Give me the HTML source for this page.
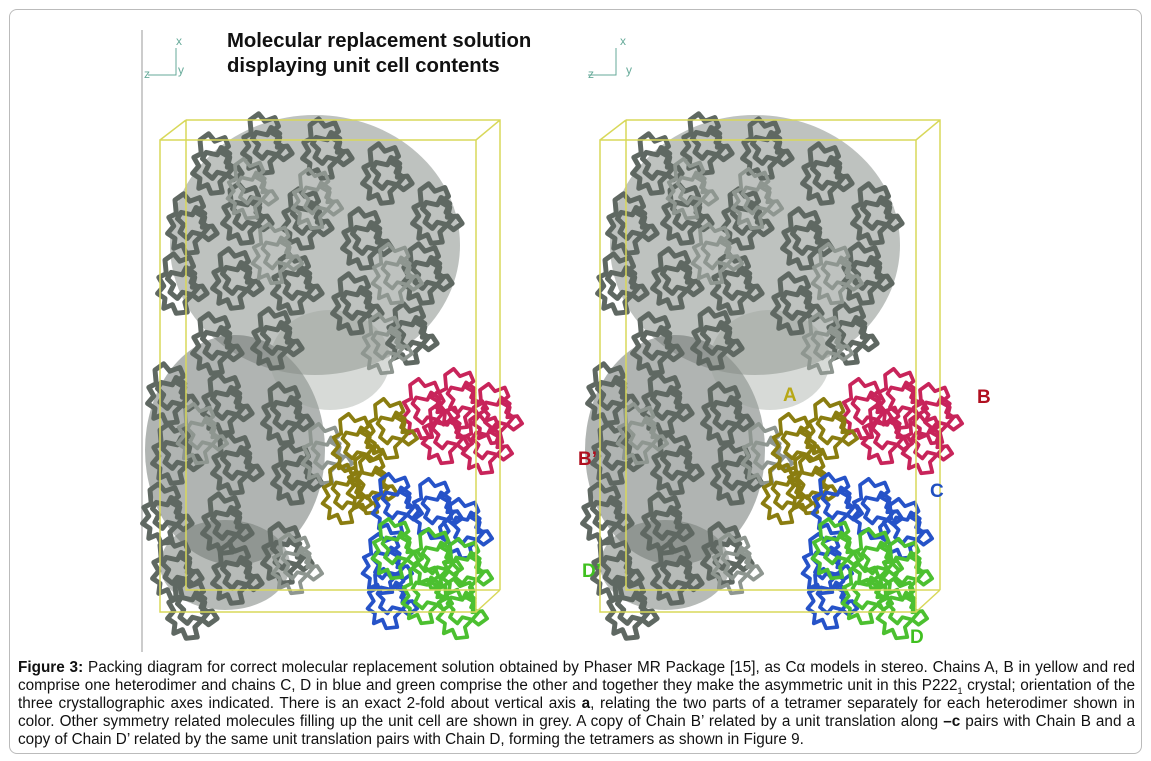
<!DOCTYPE html>
<html><head><meta charset="utf-8"><style>
body{margin:0;background:#fff;width:1151px;height:761px;overflow:hidden;font-family:"Liberation Sans",Arial,sans-serif}
.frame{position:absolute;left:9px;top:9px;width:1131px;height:743px;border:1px solid #bbb;border-radius:8px}
.cap{position:absolute;left:18px;top:659px;width:1117px;font-size:15.3px;line-height:18px;color:#111;text-align:justify}
.title{position:absolute;left:227px;top:29px;font-size:20.3px;font-weight:bold;line-height:25px;color:#111}
.lbl{position:absolute;font-weight:bold;font-size:19px}
</style></head><body>
<div class="frame"></div>
<div class="title">Molecular replacement solution<br>displaying unit cell contents</div>
<svg width="1151" height="761" style="position:absolute;left:0;top:0">
<defs>
<g id="sq" fill="none" stroke-linejoin="round" stroke-linecap="round" transform="scale(0.62)">
<path d="M0 0 l14 -10 l10 12 l16 -6 l6 14 l-12 10 l14 8 l-4 16 l16 -2 l8 12 l-14 10 l-10 -8 l-12 12 l4 16 l-18 2 l-6 -14 l-14 6 l2 -16 l-12 -8 l10 -12 l-8 -14 l12 -6z"/>
<path d="M10 20 l18 4 l6 -12 l14 10 l-6 14 l12 8 l-10 12 l-16 -4 l-8 10 l-12 -10 l6 -12 l-10 -10z"/>
</g>
</defs>
<line x1="142" y1="30" x2="142" y2="652" stroke="#ccc" stroke-width="2"/>
<g stroke="#6a9" stroke-width="1" fill="none"><path d="M148 75 H176 V48"/><path d="M588 75 H616 V48"/></g>
<g font-size="12" fill="#6a9" font-family="Liberation Sans"><text x="176" y="45">x</text><text x="178" y="74">y</text><text x="144" y="78">z</text><text x="620" y="45">x</text><text x="626" y="74">y</text><text x="588" y="78">z</text></g>
<g id="mol">
<g>
<ellipse cx="315" cy="245" rx="145" ry="130" fill="#7d857f" opacity="0.5"/>
<ellipse cx="235" cy="450" rx="90" ry="115" fill="#6f7772" opacity="0.55"/>
<ellipse cx="225" cy="565" rx="65" ry="45" fill="#6f7772" opacity="0.5"/>
<ellipse cx="330" cy="360" rx="60" ry="50" fill="#9aa29c" opacity="0.4"/>
</g>
<g stroke="#5f6862" stroke-width="8">
<use href="#sq" x="200" y="140"/><use href="#sq" x="250" y="120"/><use href="#sq" x="310" y="125"/><use href="#sq" x="370" y="150"/><use href="#sq" x="420" y="190"/>
<use href="#sq" x="175" y="200"/><use href="#sq" x="230" y="190"/><use href="#sq" x="290" y="195"/><use href="#sq" x="350" y="215"/><use href="#sq" x="410" y="250"/>
<use href="#sq" x="165" y="260"/><use href="#sq" x="220" y="255"/><use href="#sq" x="280" y="260"/><use href="#sq" x="340" y="280"/><use href="#sq" x="395" y="310"/>
<use href="#sq" x="200" y="320"/><use href="#sq" x="260" y="315"/><use href="#sq" x="155" y="370"/><use href="#sq" x="210" y="380"/><use href="#sq" x="270" y="390"/>
<use href="#sq" x="160" y="430"/><use href="#sq" x="220" y="440"/><use href="#sq" x="280" y="450"/><use href="#sq" x="150" y="490"/><use href="#sq" x="210" y="500"/>
<use href="#sq" x="160" y="545"/><use href="#sq" x="220" y="550"/><use href="#sq" x="270" y="530"/><use href="#sq" x="175" y="585"/>
</g>
<g stroke="#8e9690" stroke-width="6">
<use href="#sq" x="235" y="165"/><use href="#sq" x="300" y="175"/><use href="#sq" x="370" y="320"/><use href="#sq" x="185" y="410"/><use href="#sq" x="280" y="540"/><use href="#sq" x="310" y="430"/><use href="#sq" x="260" y="230"/><use href="#sq" x="380" y="250"/>
</g>
<g stroke="#c8245a" stroke-width="6"><use href="#sq" x="410" y="385"/><use href="#sq" x="445" y="375"/><use href="#sq" x="480" y="390"/><use href="#sq" x="430" y="410"/><use href="#sq" x="470" y="420"/></g>
<g stroke="#8a7d10" stroke-width="6"><use href="#sq" x="340" y="420"/><use href="#sq" x="355" y="460"/><use href="#sq" x="375" y="405"/><use href="#sq" x="330" y="470"/></g>
<g stroke="#2653c8" stroke-width="6"><use href="#sq" x="380" y="480"/><use href="#sq" x="420" y="485"/><use href="#sq" x="450" y="505"/><use href="#sq" x="370" y="540"/><use href="#sq" x="375" y="575"/></g>
<g stroke="#4cc030" stroke-width="6"><use href="#sq" x="380" y="525"/><use href="#sq" x="420" y="535"/><use href="#sq" x="450" y="545"/><use href="#sq" x="410" y="570"/><use href="#sq" x="445" y="585"/></g>
</g>
<use href="#mol" x="440" y="0"/>
<g stroke="#d8d85a" stroke-width="1.5" fill="none">
<path d="M160 140 H476 V612 H160Z M186 120 H500 V590 M160 140 L186 120 M476 140 L500 120 M476 612 L500 590 M186 120 V590 H500"/>
<path d="M600 140 H916 V612 H600Z M626 120 H940 V590 M600 140 L626 120 M916 140 L940 120 M916 612 L940 590 M626 120 V590 H940"/>
</g>
</svg>
<div class="lbl" style="left:783px;top:385px;color:#b8a818">A</div>
<div class="lbl" style="left:977px;top:387px;color:#b01020">B</div>
<div class="lbl" style="left:578px;top:449px;color:#b01020">B’</div>
<div class="lbl" style="left:930px;top:481px;color:#2050c0">C</div>
<div class="lbl" style="left:582px;top:561px;color:#40c020">D’</div>
<div class="lbl" style="left:910px;top:627px;color:#40c020">D</div>
<div class="cap"><b>Figure 3:</b> Packing diagram for correct molecular replacement solution obtained by Phaser MR Package [15], as Cα models in stereo. Chains A, B in yellow and red comprise one heterodimer and chains C, D in blue and green comprise the other and together they make the asymmetric unit in this P222<sub style="font-size:9px;line-height:0">1</sub> crystal; orientation of the three crystallographic axes indicated. There is an exact 2-fold about vertical axis <b>a</b>, relating the two parts of a tetramer separately for each heterodimer shown in color. Other symmetry related molecules filling up the unit cell are shown in grey. A copy of Chain B’ related by a unit translation along <b>–c</b> pairs with Chain B and a copy of Chain D’ related by the same unit translation pairs with Chain D, forming the tetramers as shown in Figure 9.</div>
</body></html>
